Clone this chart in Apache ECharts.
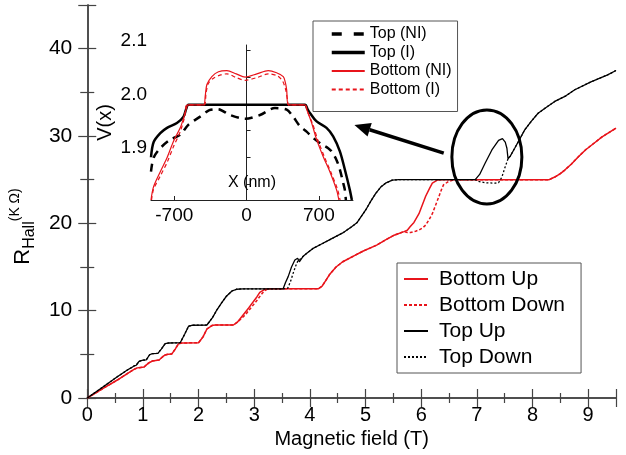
<!DOCTYPE html>
<html><head><meta charset="utf-8">
<script src="https://cdn.jsdelivr.net/npm/echarts@6/dist/echarts.min.js"></script>
<style>html,body{margin:0;padding:0;background:#fff}#c{width:626px;height:455px}</style>
</head><body><div id="c"></div>
<script>
// ---- main panel data: [B (T), R_Hall (kOhm)] ----
const bottomUp = [[0,0],[0.3,1.15],[0.54,2.06],[0.72,2.8],[0.84,3.28],[0.9,3.45],[0.96,3.5],[1.02,3.55],[1.1,4.0],[1.17,4.24],[1.29,4.35],[1.35,4.7],[1.4,4.93],[1.45,5.02],[1.52,5.05],[1.58,5.6],[1.64,6.22],[1.7,6.3],[2.0,6.33],[2.08,7.0],[2.15,7.9],[2.24,8.3],[2.3,8.36],[2.625,8.36],[2.7,8.7],[2.8,9.5],[2.9,10.3],[2.98,11.0],[3.05,11.6],[3.1,12.1],[3.19,12.45],[3.3,12.5],[4.15,12.5],[4.22,12.8],[4.29,13.5],[4.35,14.1],[4.47,15.0],[4.59,15.6],[4.8,16.3],[4.95,16.8],[5.2,17.5],[5.36,18.1],[5.5,18.6],[5.69,19.05],[5.75,19.2],[5.8,19.6],[5.87,20.1],[5.96,21.1],[6.02,22.1],[6.08,23.1],[6.15,24.0],[6.2,24.6],[6.29,24.95],[6.4,25.0],[8.3,25.0],[8.4,25.3],[8.5,25.7],[8.58,26.1],[8.7,26.8],[8.82,27.6],[8.95,28.4],[9.11,29.2],[9.25,29.9],[9.35,30.3],[9.5,30.9]];
const bottomDown = [[0,0],[0.3,1.15],[0.54,2.06],[0.72,2.8],[0.84,3.28],[0.9,3.45],[0.96,3.5],[1.02,3.55],[1.1,4.0],[1.17,4.24],[1.29,4.35],[1.35,4.7],[1.4,4.93],[1.45,5.02],[1.52,5.05],[1.58,5.6],[1.64,6.22],[1.7,6.3],[2.0,6.33],[2.08,7.0],[2.15,7.9],[2.24,8.3],[2.3,8.36],[2.625,8.36],[2.72,8.8],[2.85,9.6],[2.95,10.4],[3.04,11.1],[3.12,11.8],[3.18,12.25],[3.25,12.5],[4.15,12.5],[4.22,12.8],[4.29,13.5],[4.35,14.1],[4.47,15.0],[4.59,15.6],[4.8,16.3],[4.95,16.8],[5.2,17.5],[5.36,18.1],[5.5,18.6],[5.69,19.05],[5.75,18.95],[5.81,18.94],[5.9,19.1],[5.96,19.24],[6.03,19.5],[6.08,19.8],[6.14,20.4],[6.2,21.1],[6.26,22.1],[6.32,23.1],[6.36,23.8],[6.4,24.4],[6.49,24.8],[6.6,25.0],[8.3,25.0],[8.4,25.3],[8.5,25.7],[8.58,26.1],[8.7,26.8],[8.82,27.6],[8.95,28.4],[9.11,29.2],[9.25,29.9],[9.35,30.3],[9.5,30.9]];
const topUp = [[0,0],[0.3,1.35],[0.54,2.44],[0.72,3.2],[0.8,3.5],[0.84,3.67],[0.88,3.75],[0.93,4.2],[1.0,4.33],[1.06,4.36],[1.12,4.95],[1.17,5.08],[1.27,5.12],[1.33,5.6],[1.4,6.22],[1.47,6.3],[1.67,6.33],[1.75,7.3],[1.82,8.22],[1.88,8.33],[2.15,8.36],[2.25,9.2],[2.33,10.1],[2.42,10.95],[2.5,11.65],[2.6,12.25],[2.68,12.45],[2.8,12.5],[3.52,12.5],[3.56,13.2],[3.61,13.9],[3.67,15.0],[3.73,15.8],[3.78,16.0],[3.81,15.6],[3.875,16.2],[3.95,16.6],[4.05,17.1],[4.2,17.6],[4.35,18.1],[4.59,18.9],[4.75,19.6],[4.85,20.1],[5.0,21.5],[5.1,22.6],[5.18,23.4],[5.28,24.2],[5.36,24.6],[5.48,24.95],[5.6,25.0],[6.97,25.0],[7.05,25.6],[7.15,26.9],[7.27,28.4],[7.39,29.5],[7.46,29.7],[7.51,29.3],[7.54,28.6],[7.56,27.4],[7.6,27.7],[7.68,28.6],[7.86,30.7],[7.98,31.7],[8.1,32.6],[8.25,33.3],[8.4,33.96],[8.6,34.6],[8.76,35.3],[9.05,36.2],[9.2,36.6],[9.35,37.0],[9.5,37.5]];
const topDown = [[0,0],[0.3,1.35],[0.54,2.44],[0.72,3.2],[0.8,3.5],[0.84,3.67],[0.88,3.75],[0.93,4.2],[1.0,4.33],[1.06,4.36],[1.12,4.95],[1.17,5.08],[1.27,5.12],[1.33,5.6],[1.4,6.22],[1.47,6.3],[1.67,6.33],[1.75,7.3],[1.82,8.22],[1.88,8.33],[2.15,8.36],[2.25,9.2],[2.33,10.1],[2.42,10.95],[2.5,11.65],[2.6,12.25],[2.68,12.45],[2.8,12.5],[3.52,12.5],[3.6,12.55],[3.65,13.3],[3.7,14.3],[3.75,15.2],[3.79,15.8],[3.83,15.9],[3.875,16.2],[3.95,16.6],[4.05,17.1],[4.2,17.6],[4.35,18.1],[4.59,18.9],[4.75,19.6],[4.85,20.1],[5.0,21.5],[5.1,22.6],[5.18,23.4],[5.28,24.2],[5.36,24.6],[5.48,24.95],[5.6,25.0],[6.97,25.0],[7.03,24.8],[7.15,24.65],[7.33,24.6],[7.39,24.65],[7.45,25.3],[7.5,26.3],[7.56,27.4],[7.6,27.7],[7.68,28.6],[7.86,30.7],[7.98,31.7],[8.1,32.6],[8.25,33.3],[8.4,33.96],[8.6,34.6],[8.76,35.3],[9.05,36.2],[9.2,36.6],[9.35,37.0],[9.5,37.5]];

// ---- inset data: [X (nm), V(x)] ----
const insetTopNI = [[-925,1.873],[-900,1.899],[-835,1.917],[-739,1.933],[-642,1.942],[-562,1.961],[-449,1.976],[-360,1.988],[-280,1.99],[-159,1.979],[-14,1.972],[130,1.979],[275,1.992],[388,1.989],[450,1.976],[517,1.958],[581,1.948],[645,1.936],[720,1.925],[790,1.917],[822,1.911],[870,1.895],[903,1.877],[935,1.852],[951,1.839],[961,1.82]];
const insetTopI = [[-925,1.90],[-900,1.928],[-835,1.945],[-770,1.955],[-674,1.964],[-610,1.976],[-585,1.99],[-562,1.998],[565,1.998],[590,1.99],[613,1.983],[678,1.967],[774,1.955],[838,1.939],[903,1.911],[951,1.877],[999,1.839],[1019,1.82]];
const insetBottomNI = [[-925,1.82],[-900,1.845],[-835,1.873],[-770,1.899],[-707,1.93],[-642,1.955],[-610,1.973],[-577,1.995],[-570,1.998],[-417,1.998],[-400,2.015],[-384,2.036],[-336,2.051],[-272,2.06],[-191,2.062],[-100,2.056],[-14,2.050],[100,2.056],[210,2.062],[290,2.058],[355,2.051],[375,2.04],[388,2.026],[404,1.998],[565,1.998],[581,1.99],[630,1.964],[678,1.933],[742,1.901],[806,1.873],[871,1.839],[893,1.82]];
const insetBottomI = [[-920,1.82],[-900,1.84],[-835,1.865],[-770,1.89],[-707,1.92],[-642,1.948],[-600,1.975],[-575,1.998],[-410,1.998],[-392,2.02],[-370,2.038],[-320,2.048],[-250,2.054],[-191,2.056],[-100,2.049],[-14,2.044],[100,2.049],[210,2.056],[300,2.052],[350,2.042],[380,2.025],[398,2.005],[405,1.998],[565,1.998],[590,1.985],[640,1.962],[690,1.932],[755,1.9],[820,1.87],[880,1.84],[905,1.82]];

const insetXTicks = [-700, 0, 700];
const insetYTicks = [1.85, 1.9, 1.95, 2.0, 2.05, 2.1];
const insetYLabels = [1.9, 2.0, 2.1];

// annotation anchor points (data coords of main panel)
const ellipseCenter = [7.18, 27.6];
const arrowFrom = [6.405, 28.03];
const arrowTo = [4.8, 31.27];

const FONT = '"Liberation Sans", Arial, Helvetica, sans-serif';
const AX = '#444';
const RED = '#e8141b';
const chart = echarts.init(document.getElementById('c'));

const mainX = {gridIndex:0,type:'value',min:0,max:9.5,interval:1,
  axisLine:{lineStyle:{color:AX,width:1.5}},
  axisTick:{inside:true,length:9,lineStyle:{color:AX,width:1.2}},
  minorTick:{show:true,splitNumber:2,length:5,lineStyle:{color:AX,width:1.2}},
  splitLine:{show:false},minorSplitLine:{show:false}};
const mainY = {gridIndex:0,type:'value',min:0,max:45,interval:10,
  axisLine:{show:true,lineStyle:{color:AX,width:1.5}},
  axisTick:{show:true,inside:true,length:9,lineStyle:{color:AX,width:1.2}},
  minorTick:{show:true,splitNumber:2,length:7,lineStyle:{color:AX,width:1.2}},
  splitLine:{show:false},minorSplitLine:{show:false}};

chart.setOption({
  animation:false,
  backgroundColor:'#fff',
  grid:[{left:83,right:10,top:5,bottom:57},{left:151,right:273,top:45,bottom:255}],
  xAxis:[
    Object.assign({}, mainX, {position:'bottom',
      axisLabel:{fontSize:20,color:'#000',margin:7,fontFamily:FONT,formatter:v=>Number.isInteger(v)?String(v):''},
      name:'Magnetic field (T)',nameLocation:'middle',nameGap:30,
      nameTextStyle:{fontSize:20,color:'#000',fontFamily:FONT}}),
    Object.assign({}, mainX, {position:'top',axisLabel:{show:false}}),
    {gridIndex:1,type:'value',min:-925,max:1030,
      axisLine:{lineStyle:{color:'#222',width:1}},
      axisTick:{inside:true,length:4,customValues:insetXTicks,lineStyle:{color:'#222'}},
      axisLabel:{customValues:insetXTicks,fontSize:19,color:'#000',margin:6,fontFamily:FONT},
      splitLine:{show:false},
      name:'X (nm)',nameLocation:'middle',nameGap:-25,
      nameTextStyle:{fontSize:16,color:'#000',fontFamily:FONT}}
  ],
  yAxis:[
    Object.assign({}, mainY, {position:'left',
      axisLabel:{fontSize:21,color:'#000',margin:15,fontFamily:FONT,formatter:v=>(v%10===0)?String(v):''},
      name:'{r|R}{s|Hall}{p|(K Ω)}',nameLocation:'middle',nameRotate:90,nameGap:38,
      nameTextStyle:{fontFamily:FONT,color:'#000',padding:[0,50,0,0],
        rich:{r:{fontSize:22,lineHeight:30,verticalAlign:'middle',fontFamily:FONT,color:'#000'},
              s:{fontSize:16,lineHeight:16,verticalAlign:'bottom',fontFamily:FONT,color:'#000'},
              p:{fontSize:14,lineHeight:14,verticalAlign:'top',fontFamily:FONT,color:'#000'}}}}),
    Object.assign({}, mainY, {position:'right',axisLabel:{show:false}}),
    {gridIndex:1,type:'value',min:1.82,max:2.11,
      axisLine:{show:true,lineStyle:{color:'#222',width:1}},
      axisTick:{show:true,inside:true,length:4,customValues:insetYTicks,lineStyle:{color:'#222'}},
      axisLabel:{customValues:insetYLabels,fontSize:19,color:'#000',margin:4,fontFamily:FONT,verticalAlign:'bottom',formatter:v=>v.toFixed(1)},
      splitLine:{show:false},
      name:'V(x)',nameLocation:'middle',nameRotate:90,nameGap:36,
      nameTextStyle:{fontSize:20,color:'#000',fontFamily:FONT}}
  ],
  legend:[
    {orient:'vertical',left:397,top:263,data:['Bottom Up','Bottom Down','Top Up','Top Down'],
      itemWidth:24,itemHeight:14,itemGap:4,padding:[5,16,5,6],
      itemStyle:{opacity:0},
      borderColor:'#555',borderWidth:1,backgroundColor:'#fff',
      textStyle:{fontSize:21,lineHeight:22,color:'#000',fontFamily:FONT,padding:[0,0,0,6]}},
    {orient:'vertical',left:313,top:21,
      data:[{name:'Top (NI)',lineStyle:{width:3.5,type:[10,12]}},{name:'Top (I)',lineStyle:{width:3.5}},'Bottom (NI)','Bottom (I)'],
      itemWidth:33,itemHeight:12,itemGap:2.5,padding:[5,6,14,17],
      itemStyle:{opacity:0},
      borderColor:'#555',borderWidth:1,backgroundColor:'#fff',
      textStyle:{fontSize:16,lineHeight:16,color:'#000',fontFamily:FONT}}
  ],
  series:[
    {name:'Bottom Down',type:'line',xAxisIndex:0,yAxisIndex:0,data:bottomDown,symbol:'none',
      lineStyle:{color:RED,width:1.5,type:[3,2]},itemStyle:{color:RED},z:2},
    {name:'Bottom Up',type:'line',xAxisIndex:0,yAxisIndex:0,data:bottomUp,symbol:'none',
      lineStyle:{color:RED,width:1.5},itemStyle:{color:RED},z:3},
    {name:'Top Down',type:'line',xAxisIndex:0,yAxisIndex:0,data:topDown,symbol:'none',
      lineStyle:{color:'#000',width:1.3,type:[2,2]},itemStyle:{color:'#000'},z:4},
    {name:'Top Up',type:'line',xAxisIndex:0,yAxisIndex:0,data:topUp,symbol:'none',
      lineStyle:{color:'#000',width:1.3},itemStyle:{color:'#000'},z:5},
    {name:'Top (NI)',type:'line',xAxisIndex:2,yAxisIndex:2,data:insetTopNI,symbol:'none',smooth:0.3,
      lineStyle:{color:'#000',width:2.5,type:[8,6]},itemStyle:{color:'#000'}},
    {name:'Top (I)',type:'line',xAxisIndex:2,yAxisIndex:2,data:insetTopI,symbol:'none',smooth:0.3,
      lineStyle:{color:'#000',width:2.5},itemStyle:{color:'#000'}},
    {name:'Bottom (NI)',type:'line',xAxisIndex:2,yAxisIndex:2,data:insetBottomNI,symbol:'none',smooth:0.3,
      lineStyle:{color:RED,width:1.2},itemStyle:{color:RED}},
    {name:'Bottom (I)',type:'line',xAxisIndex:2,yAxisIndex:2,data:insetBottomI,symbol:'none',smooth:0.3,
      lineStyle:{color:RED,width:1.2,type:[4,3]},itemStyle:{color:RED}}
  ]
});

// annotations placed via the main panel scales
const c = chart.convertToPixel({gridIndex:0}, ellipseCenter);
const a0 = chart.convertToPixel({gridIndex:0}, arrowFrom);
const a1 = chart.convertToPixel({gridIndex:0}, arrowTo);
const dx = a1[0]-a0[0], dy = a1[1]-a0[1], L = Math.hypot(dx,dy);
const ux = dx/L, uy = dy/L, headLen = 16, headW = 7;
const bx = a1[0]-ux*headLen, by = a1[1]-uy*headLen;
chart.setOption({graphic:[
  {type:'ellipse',shape:{cx:c[0],cy:c[1],rx:35,ry:47},style:{fill:'none',stroke:'#000',lineWidth:3},z:100},
  {type:'line',shape:{x1:a0[0],y1:a0[1],x2:bx,y2:by},style:{stroke:'#000',lineWidth:3.5},z:100},
  {type:'polygon',shape:{points:[[a1[0],a1[1]],[bx-uy*headW,by+ux*headW],[bx+uy*headW,by-ux*headW]]},style:{fill:'#000'},z:100}
]});
</script></body></html>
